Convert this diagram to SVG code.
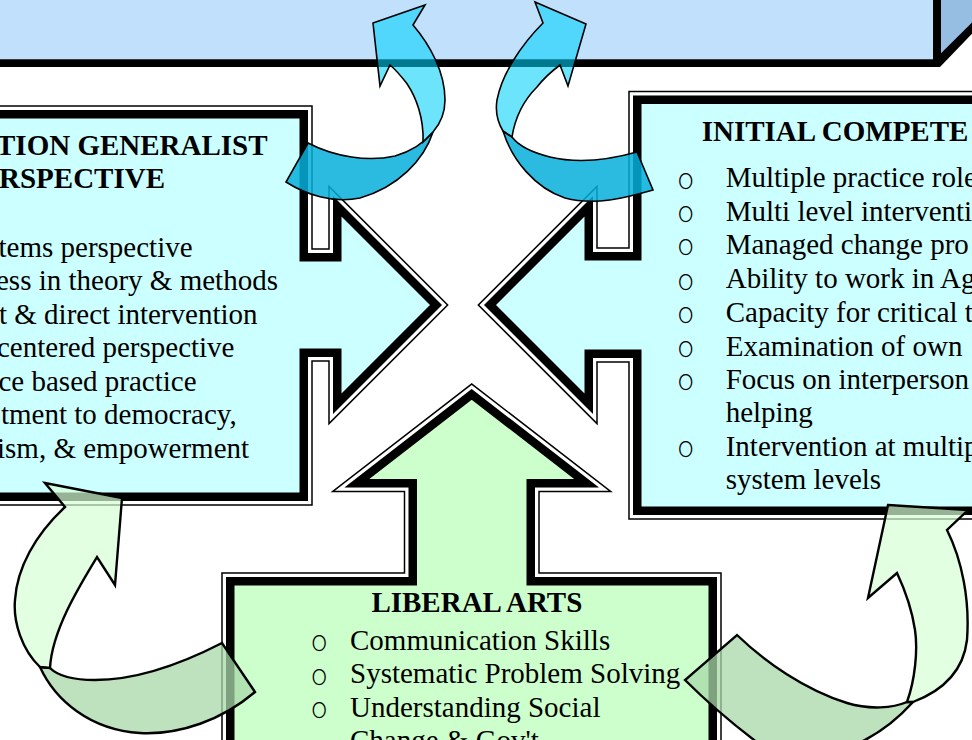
<svg xmlns="http://www.w3.org/2000/svg" xmlns:xlink="http://www.w3.org/1999/xlink" width="972" height="740" viewBox="0 0 972 740">
<style>
.t{font-family:"Liberation Serif","Times New Roman",serif;font-size:29px;fill:#000}
.tb{font-weight:bold}
.bul{font-family:Inter,"DejaVu Sans",sans-serif;font-size:28px;font-weight:200;fill:#000}
.o1{fill:none;stroke:#000;stroke-width:9.5;stroke-linejoin:miter;stroke-miterlimit:10}
.o2{fill:none;stroke:#fff;stroke-width:6.5;stroke-linejoin:miter;stroke-miterlimit:10}
.in{fill:none;stroke:#000;stroke-width:17;stroke-linejoin:miter;stroke-miterlimit:10}
.bl{fill:#00D0FA;fill-opacity:0.58;stroke:#000;stroke-width:1.6;stroke-linejoin:miter}
.bd{fill:#06AFDB;fill-opacity:0.85;stroke:#000;stroke-width:1.6;stroke-linejoin:miter}
.gl{fill:#D5FFD5;fill-opacity:0.7;stroke:#000;stroke-width:2.4;stroke-linejoin:miter}
.gd{fill:#A8D8A8;fill-opacity:0.75;stroke:#000;stroke-width:2.4;stroke-linejoin:miter}
</style>
<defs>
<path id="sL" d="M -30,110 H 308 V 253 H 333 V 196 L 442,305 L 333,414 V 357 H 308 V 501 H -30 Z"/>
<path id="sR" d="M 1000,95.5 H 633 V 252 H 593 V 196 L 484,305 L 593,414 V 358 H 633 V 515 H 1000 Z"/>
<path id="sU" d="M 226,770 V 577 H 408.5 V 487.5 H 344.4 L 471.7,389 L 599,487.5 H 535 V 577 H 717 V 770 Z"/>
<clipPath id="cL"><use xlink:href="#sL"/></clipPath>
<clipPath id="cR"><use xlink:href="#sR"/></clipPath>
<clipPath id="cU"><use xlink:href="#sU"/></clipPath>
</defs>
<rect width="972" height="740" fill="#fff"/>
<g id="top-box">
<rect x="-5" y="-5" width="938" height="64.3" fill="#C0E0FC"/>
<polygon points="941,-5 977,-5 977,18 941,54" fill="#96BDE2"/>
<polygon points="933,-5 941,-5 941,53.3 977,17.5 977,28.5 940,67 -5,67 -5,59.3 933,59.3" fill="#000"/>
</g>
<g id="left-box">
<use xlink:href="#sL" class="o1"/>
<use xlink:href="#sL" class="o2"/>
<use xlink:href="#sL" fill="#CCFFFF"/>
<use xlink:href="#sL" class="in" clip-path="url(#cL)"/>
<text class="t tb" x="-4" y="155">TION GENERALIST</text>
<text class="t tb" x="-1" y="188.3">RSPECTIVE</text>
<text class="t" x="-1.5" y="256.5">tems perspective</text>
<text class="t" x="-4" y="290">ess in theory &amp; methods</text>
<text class="t" x="-1" y="323.5">t &amp; direct intervention</text>
<text class="t" x="-3" y="357">centered perspective</text>
<text class="t" x="-1.5" y="390.5">ce based practice</text>
<text class="t" x="1" y="424">tment to democracy,</text>
<text class="t" x="-3" y="457.5">ism, &amp; empowerment</text>
</g>
<g id="right-box">
<use xlink:href="#sR" class="o1"/>
<use xlink:href="#sR" class="o2"/>
<use xlink:href="#sR" fill="#CCFFFF"/>
<use xlink:href="#sR" class="in" clip-path="url(#cR)"/>
<text class="t tb" x="701.7" y="140.7">INITIAL COMPETE</text>
<text class="bul" x="677.5" y="188.5">o</text>
<text class="t" x="725.7" y="187.3">Multiple practice role</text>
<text class="bul" x="677.5" y="221.9">o</text>
<text class="t" x="725.7" y="220.7">Multi level interventi</text>
<text class="bul" x="677.5" y="255.2">o</text>
<text class="t" x="725.7" y="254">Managed change pro</text>
<text class="bul" x="677.5" y="289.5">o</text>
<text class="t" x="725.7" y="288.3">Ability to work in Ag</text>
<text class="bul" x="677.5" y="322.9">o</text>
<text class="t" x="725.7" y="321.7">Capacity for critical t</text>
<text class="bul" x="677.5" y="356.9">o</text>
<text class="t" x="725.7" y="355.7">Examination of own</text>
<text class="bul" x="677.5" y="390.2">o</text>
<text class="t" x="725.7" y="389">Focus on interperson</text>
<text class="t" x="725.7" y="422.3">helping</text>
<text class="bul" x="677.5" y="456.9">o</text>
<text class="t" x="725.7" y="455.7">Intervention at multip</text>
<text class="t" x="725.7" y="489">system levels</text>
</g>
<g id="liberal-arts">
<use xlink:href="#sU" class="o1"/>
<use xlink:href="#sU" class="o2"/>
<use xlink:href="#sU" fill="#CCFFCC"/>
<use xlink:href="#sU" class="in" clip-path="url(#cU)"/>
<text class="t tb" x="371.4" y="611.7">LIBERAL ARTS</text>
<text class="bul" x="311" y="651.2">o</text>
<text class="t" x="350" y="650">Communication Skills</text>
<text class="bul" x="311" y="684.5">o</text>
<text class="t" x="350" y="683.3">Systematic Problem Solving</text>
<text class="bul" x="311" y="717.9">o</text>
<text class="t" x="350" y="716.7">Understanding Social</text>
<text class="t" x="350" y="750">Change &amp; Gov't</text>
</g>
<g id="connectors">
<path class="bd" d="M 433,132 C 424,160 398,187 360,198 C 333,204 305,194 286,182 L 308,143 C 335,157 368,162 395,156 C 412,151 424,143 433,132 Z"/>
<path class="bl" d="M 373,23 L 425,5 L 413,25 C 430,45 445,72 445,100 C 445,113 440,124 433,132 L 423,142 C 424,118 416,97 406.7,83.3 C 401,76 396,70 390,65 L 380,86 Z"/>
<path class="bd" d="M 503,131 C 512,160 535,188 565,198 C 595,206 625,198 653,190 L 637,152 C 605,161 575,163 550,157 C 530,152 518,145 512,137 Z"/>
<path class="bl" d="M 586,24 L 535,2 L 543,23 C 521,45 502,74 497,100 C 495,113 498,123 503,131 L 512,137 C 515,118 524,100 537,87 C 544,78 552,71 560,65 L 568,86 Z"/>
<path class="gd" d="M 40,667 C 55,700 90,730 140,733 C 180,735 222,720 255,692 L 222,643 C 185,662 140,680 95,680 C 75,680 58,676 50,668 Z"/>
<path class="gl" d="M 45,483 L 122,498 L 115,585 L 97,557 C 80,585 52,630 50,668 L 40,667 C 22,650 13,622 15,600 C 17,568 35,535 65,507 Z"/>
<path class="gd" d="M 913,702 C 895,722 870,742 835,752 L 770,752 C 740,730 710,705 685,680 L 737,635 C 765,662 805,690 847,703 C 870,710 893,708 907,702 Z"/>
<path class="gl" d="M 888,505 L 968,510 L 947,530 C 962,560 970,600 967,640 C 964,665 950,688 913,702 L 907,702 C 915,680 918,650 915,630 C 912,610 905,590 897,573 L 868,598 Z"/>
</g>
</svg>
